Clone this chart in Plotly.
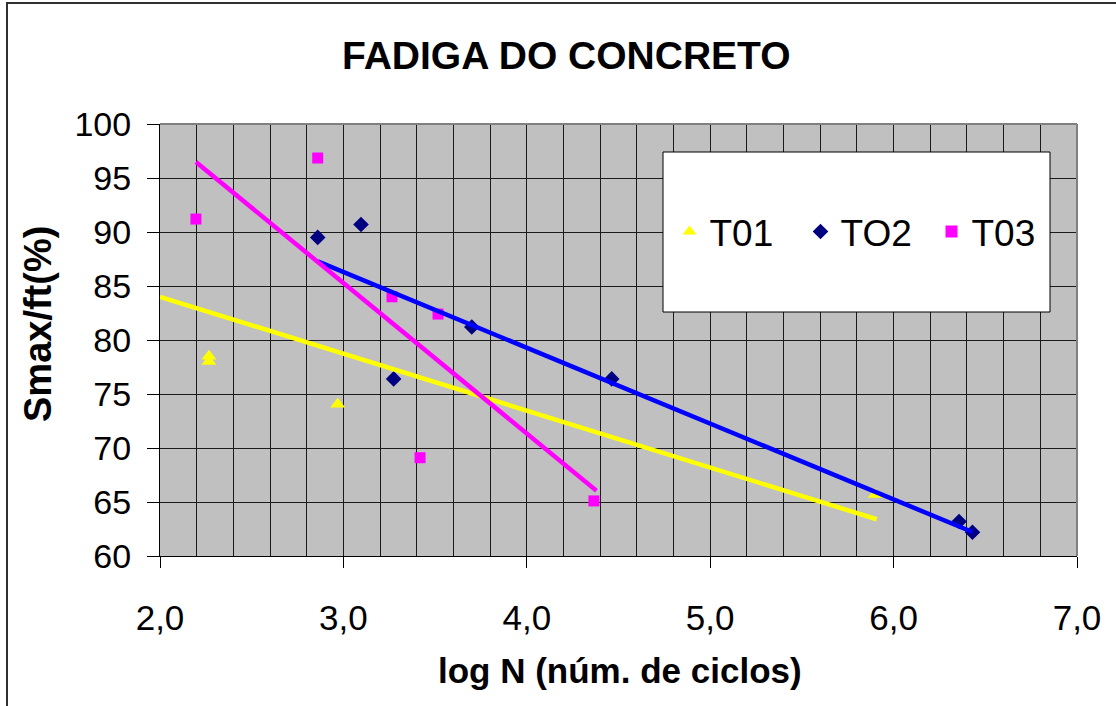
import numpy as np
import plotly.graph_objects as go

# ---------------- data ----------------
t01_x = [2.267, 2.267, 2.969, 5.900]
t01_y = [78.5, 78.0, 74.05, 65.7]

t02_x = [2.860, 3.096, 3.274, 3.700, 4.463, 6.357, 6.430]
t02_y = [89.5, 90.7, 76.4, 81.2, 76.4, 63.2, 62.2]

t03_x = [2.196, 2.860, 3.265, 3.516, 3.418, 4.366]
t03_y = [91.2, 96.85, 84.0, 82.4, 69.1, 65.1]

series_names = ["T01", "TO2", "T03"]

# linear trendlines (slope, intercept, x start, x end)
trend_slope = [-5.27, -7.02, -13.94]
trend_intercept = [94.54, 107.36, 127.1]
trend_x_start = [2.0, 2.86, 2.196]
trend_x_end = [5.908, 6.43, 4.38]

title_text = "FADIGA DO CONCRETO"
x_title = "log N (núm. de ciclos)"
y_title = "Smax/ft(%)"

# ---------------- styling ----------------
FONT = "Liberation Sans, Arial, sans-serif"
marker_colors = ["#FFFF00", "#000080", "#FF00FF"]
marker_symbols = ["triangle-up", "diamond", "square"]
marker_sizes = [13, 12, 11]
line_colors = ["#FFFF00", "#0000FF", "#FF00FF"]

W, H = 1116, 706
L, R, T, B = 160, 1077, 124, 556

def px_x(p):
    return (p - L) / (R - L)

def px_y(p):
    return (B - p) / (B - T)

fig = go.Figure()

xs = [t01_x, t02_x, t03_x]
ys = [t01_y, t02_y, t03_y]
for i in range(3):
    fig.add_trace(go.Scatter(
        x=xs[i], y=ys[i], mode="markers", name=series_names[i],
        marker=dict(color=marker_colors[i], symbol=marker_symbols[i],
                    size=marker_sizes[i], line=dict(width=0)),
        showlegend=True,
    ))

for i in range(3):
    tx = np.array([trend_x_start[i], trend_x_end[i]])
    ty = trend_slope[i] * tx + trend_intercept[i]
    fig.add_trace(go.Scatter(
        x=tx, y=ty, mode="lines", showlegend=False, hoverinfo="skip",
        line=dict(color=line_colors[i], width=4.5),
    ))

shapes = [
    dict(type="rect", xref="paper", yref="paper",
         x0=px_x(7), x1=px_x(1125), y0=px_y(715), y1=px_y(3),
         line=dict(color="#303030", width=2), fillcolor="rgba(0,0,0,0)", layer="below"),
    dict(type="line", xref="paper", yref="paper", x0=0, x1=1, y0=1, y1=1,
         line=dict(color="#808080", width=2)),
    dict(type="line", xref="paper", yref="paper", x0=1, x1=1, y0=0, y1=1,
         line=dict(color="#808080", width=2)),
    dict(type="rect", xref="paper", yref="paper",
         x0=px_x(663), x1=px_x(1050), y0=px_y(312), y1=px_y(152),
         line=dict(color="#000000", width=1), fillcolor="#FFFFFF", layer="above"),
]

annotations = [
    dict(text=f"<b>{title_text}</b>", xref="paper", yref="paper",
         x=px_x(566), y=px_y(56), showarrow=False,
         font=dict(family=FONT, size=39, color="#000000"),
         xanchor="center", yanchor="middle"),
    dict(text=f"<b>{x_title}</b>", xref="paper", yref="paper",
         x=px_x(620), y=px_y(670), showarrow=False,
         font=dict(family=FONT, size=35, color="#000000"),
         xanchor="center", yanchor="middle"),
    dict(text=f"<b>{y_title}</b>", xref="paper", yref="paper",
         x=px_x(38), y=px_y(324), showarrow=False, textangle=-90,
         font=dict(family=FONT, size=38, color="#000000"),
         xanchor="center", yanchor="middle"),
]

fig.update_layout(
    width=W, height=H,
    margin=dict(l=L, r=W - R, t=T, b=H - B, pad=0),
    paper_bgcolor="#FFFFFF",
    plot_bgcolor="#C0C0C0",
    separators=",.",
    font=dict(family=FONT, size=34, color="#000000"),
    shapes=shapes,
    annotations=annotations,
    showlegend=True,
    legend=dict(
        orientation="h", x=px_x(866), y=px_y(232),
        xanchor="center", yanchor="middle",
        bgcolor="rgba(0,0,0,0)", borderwidth=0,
        font=dict(family=FONT, size=37, color="#000000"),
        itemsizing="constant", traceorder="normal",
        entrywidth=86, entrywidthmode="pixels",
    ),
    xaxis=dict(
        range=[2, 7], dtick=1, tick0=2, tickformat=".1f",
        showgrid=True, gridcolor="#1a1a1a", gridwidth=1,
        minor=dict(dtick=0.2, showgrid=True, gridcolor="#1a1a1a", gridwidth=1),
        zeroline=False, showline=True, linecolor="#000000", linewidth=1,
        ticks="outside", ticklen=11, tickcolor="#000000",
        ticklabelstandoff=20,
        tickfont=dict(family=FONT, size=35),
    ),
    yaxis=dict(
        range=[60, 100], dtick=5, tick0=60,
        showgrid=True, gridcolor="#1a1a1a", gridwidth=1,
        zeroline=False, showline=True, linecolor="#000000", linewidth=1,
        ticks="outside", ticklen=12, tickcolor="#000000",
        ticklabelstandoff=9,
        tickfont=dict(family=FONT, size=34),
    ),
)

fig.write_html("out.html")
